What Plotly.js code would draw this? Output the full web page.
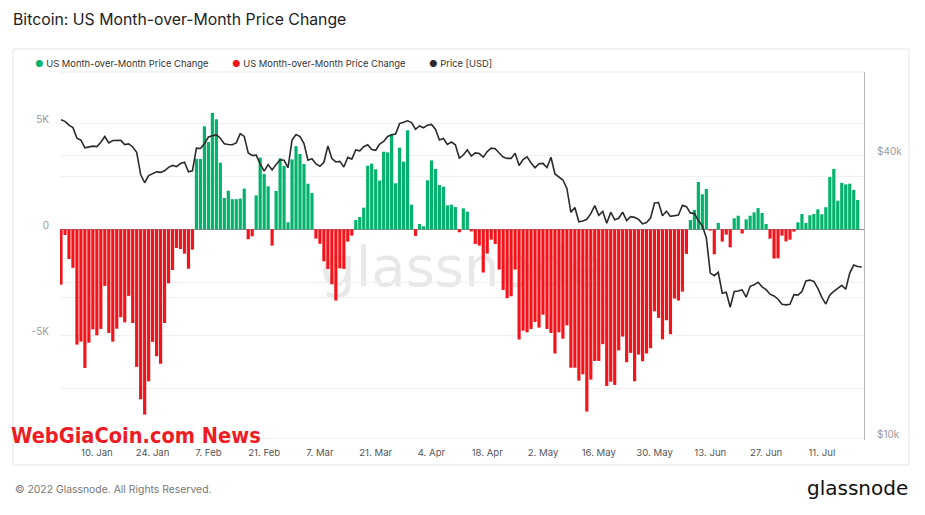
<!DOCTYPE html>
<html>
<head>
<meta charset="utf-8">
<script src="https://cdn.plot.ly/plotly-3.0.1.min.js"></script>
<style>
  html, body { margin: 0; padding: 0; background: #fff; }
  #chart { width: 925px; height: 515px; }
</style>
</head>
<body>
<div id="chart"></div>
<script>
// ---- DATA ----
const startDate = '2022-01-01';   // first daily bar

// US Month-over-Month price change (USD), one value per day from 1 Jan 2022
const momChange = [
  -2610, -270, -1400, -1820, -5440, -5300, -6540, -5350, -4720, -5000,
  -4700, -2670, -4890, -5300, -4690, -4150, -4390, -3140, -4420, -6490,
  -8020, -8740, -7170, -5310, -5990, -6340, -4420, -2550, -1920, -880,
  -930, -1150, -1860, -960,
  3320, 3320, 4860, 4120, 5490, 5190, 3140, 1480, 1820, 1420,
  1420, 1450, 1920, -470, -330, 1600, 3380, 2610, 2030,
  -770, 1810, 3350, 2990, 330, 3300, 3920, 3550, 3080, 2150,
  1710, -440, -680, -1510, -1870, -2590, -3360, -1840, -1870, -580,
  -300, 440, 580, 1020, 3000, 3100, 2830, 2300, 3660, 3630,
  4480, 2170, 3850, 3190, 4670, 1160, -310, 250, 140, 2310,
  3250, 2850, 2090, 2010, 1130, 1160, 1050, -140,
  990, 830, -100, -690, -770, -2040, -1150, -490, -690, -1900,
  -2860, -3250, -3160, -1900, -5200, -4780, -4860, -4700, -4370, -4640,
  -4030, -4700, -4890, -5860, -4860, -5160, -4530, -6530, -6530, -7140,
  -6840, -8600, -7090, -6210, -6210, -5420, -7390, -7190, -7340, -5710,
  -5060, -6270, -5830, -7170, -5910, -6230, -5860, -5610, -3870, -4180,
  -5190, -4290, -4950, -3270, -3360, -2940, -1160,
  440, 910, 2230, 1650, 1900, -60, -1180, 300, -580, -250,
  -850, 520, 640, -200, 470, 640, 800, 1000, 770, 250,
  -440, -1380, -1370, -300, -570, -490, -110, 330, 720, 300,
  660, 720, 940, 710, 1040, 2470, 2850, 1350, 2190, 2120,
  2150, 1860, 1380
];

// Price [USD], one value per day from 1 Jan 2022
const priceUSD = [
  47686, 47345, 46458, 45897, 43569, 43160, 41558, 41734, 41912, 41822,
  42736, 43949, 42592, 43100, 43177, 43114, 42250, 42375, 41744, 40681,
  36458, 35031, 36277, 36654, 36954, 36852, 37138, 37784, 38139, 37917, 38483,
  38743, 36952, 37154, 41501, 41441, 42412, 43841, 44118, 44339, 43565,
  42407, 42244, 42197, 42586, 44575, 43962, 40538, 40030, 40122, 38431,
  37075, 38286, 37296, 38332, 39214, 39105, 37709, 43193,
  44354, 43925, 42452, 39137, 39400, 38420, 37988, 38730, 41941, 39438,
  38795, 38904, 37849, 39666, 39338, 41143, 40951, 41801, 42191, 41247,
  41077, 42358, 42892, 43960, 44348, 44500, 46820, 47128, 47465, 47062, 45539,
  46281, 45868, 46453, 46622, 45555, 43206, 43504, 42287, 42782, 42207,
  39521, 40127, 41166, 39936, 40553, 40424, 39716, 40826, 41502, 41374,
  40527, 39740, 39469, 39470, 40458, 38117, 39241, 39773, 38610, 37714,
  38469, 38529, 37750, 39698, 36575, 36040, 35501, 34059, 30296, 31022,
  28936, 29047, 29283, 30101, 31305, 29862, 30425, 28720, 30314, 29200,
  29432, 30323, 29098, 29655, 29562, 29267, 28627, 28814, 29445, 31726, 31792,
  29799, 30467, 29704, 29833, 29907, 31370, 31155, 30214, 30112, 29083,
  28360, 26763, 22487, 22206, 22572, 20381, 20471, 19017, 20553, 20600,
  20711, 19987, 21085, 21232, 21502, 21028, 20735, 20281, 20105, 19785,
  19297, 19247, 19298, 20231, 20191, 20548, 21638, 21731, 21592, 20861,
  19971, 19323, 20213, 20570, 20836, 21190, 20780, 22486, 23389, 23231, 23165
];

const leftTickVals = [-10000, -7500, -5000, -2500, 0, 2500, 5000];
const leftTickText = ['-10K', '', '-5K', '', '0', '', '5K'];
const rightTickVals = [10000, 20000, 40000];
const rightTickText = ['$10k', '', '$40k'];
const seriesName = 'US Month-over-Month Price Change';
const priceName = 'Price [USD]';

// ---- BUILD ----
function dayList(n) {
  const out = [];
  const t0 = Date.parse(startDate + 'T00:00:00Z');
  for (let i = 0; i < n; i++) {
    out.push(new Date(t0 + i * 86400000).toISOString().slice(0, 10));
  }
  return out;
}
const barDates = dayList(momChange.length);
const priceDates = dayList(priceUSD.length);

const GREEN = '#03b36b';
const RED = '#f2141b';

const traces = [
  {
    type: 'bar', name: seriesName, x: barDates,
    y: momChange.map(v => v >= 0 ? v : null),
    marker: { color: GREEN, line: { width: 0 } }, yaxis: 'y', hoverinfo: 'skip'
  },
  {
    type: 'bar', name: seriesName, x: barDates,
    y: momChange.map(v => v < 0 ? v : null),
    marker: { color: RED, line: { width: 0 } }, yaxis: 'y', hoverinfo: 'skip'
  },
  {
    type: 'scatter', mode: 'lines', name: priceName, x: priceDates, y: priceUSD,
    line: { color: '#2b2b2b', width: 1.6 }, yaxis: 'y2', hoverinfo: 'skip'
  }
];

// plot area: x 60..864, y 72..440
const L = 60, R = 864, T = 72, B = 440;
const px = x => (x - L) / (R - L);
const py = y => (B - y) / (B - T);

function legendItem(x, color, text) {
  return {
    xref: 'paper', yref: 'paper', x: px(x), y: py(63), xanchor: 'left', yanchor: 'middle',
    showarrow: false,
    text: '<span style="color:' + color + '">●</span> ' + text,
    font: { family: 'Inter, Roboto, sans-serif', size: 9.4, color: '#333' }
  };
}

const layout = {
  width: 925, height: 515,
  paper_bgcolor: '#ffffff', plot_bgcolor: 'rgba(0,0,0,0)',
  margin: { l: L, r: 925 - R, t: T, b: 515 - B, pad: 0 },
  showlegend: false,
  barmode: 'relative', bargap: 0.2,
  font: { family: 'Inter, Roboto, sans-serif', size: 10, color: '#666' },
  title: {
    text: 'Bitcoin: US Month-over-Month Price Change',
    xref: 'container', yref: 'container', x: 13 / 925, xanchor: 'left',
    y: 1 - 19 / 515, yanchor: 'middle',
    font: { family: 'Inter, Roboto, sans-serif', size: 15.8, color: '#222' }
  },
  xaxis: {
    type: 'date',
    range: ['2021-12-31 18:00', '2022-07-21 14:00'],
    tick0: '2022-01-10', dtick: 14 * 86400000, tickformat: '%-d. %b',
    showgrid: false, zeroline: false, showline: false, ticks: '',
    ticklabelstandoff: 5,
    tickfont: { size: 9.6, color: '#555' }, fixedrange: true
  },
  yaxis: {
    range: [-9940, 7420],
    tickvals: leftTickVals, ticktext: leftTickText,
    showgrid: true, gridcolor: '#f0f0f0', gridwidth: 1,
    zeroline: true, zerolinecolor: '#8c8c8c', zerolinewidth: 1.5,
    showline: false, ticks: '', ticklabelstandoff: 10, ticklabelshift: -4,
    tickfont: { size: 10, color: '#999' }, fixedrange: true
  },
  yaxis2: {
    type: 'log', overlaying: 'y', side: 'right',
    range: [Math.log10(9920), Math.log10(60300)],
    tickvals: rightTickVals, ticktext: rightTickText,
    showgrid: true, gridcolor: '#f0f0f0', gridwidth: 1,
    zeroline: false, showline: true, linecolor: '#b5b5b5', linewidth: 1,
    ticks: '', ticklabelstandoff: 10, ticklabelshift: -4,
    tickfont: { size: 10, color: '#999' }, fixedrange: true
  },
  shapes: [
    // outer card frame
    { type: 'rect', xref: 'paper', yref: 'paper', x0: px(13), x1: px(909), y0: py(465), y1: py(49),
      line: { color: '#e6e6e6', width: 1 }, fillcolor: 'rgba(0,0,0,0)', layer: 'below' },
    // line under legend
    { type: 'line', xref: 'paper', yref: 'paper', x0: 0, x1: 1, y0: 1, y1: 1,
      line: { color: '#e8e8e8', width: 1 }, layer: 'below' },
    // watermark
    { type: 'rect', xref: 'paper', yref: 'paper', x0: 0, x1: 1, y0: py(300), y1: py(225),
      line: { width: 0 }, fillcolor: 'rgba(0,0,0,0)', layer: 'below',
      label: { text: 'glassnode', textposition: 'middle center',
               font: { family: 'DejaVu Sans, sans-serif', size: 56, color: '#e8e8e8' } } }
  ],
  annotations: [
    legendItem(33, GREEN, seriesName),
    legendItem(230, RED, seriesName),
    legendItem(427, '#2b2b2b', priceName),
    { xref: 'paper', yref: 'paper', x: px(13), y: py(489), xanchor: 'left', yanchor: 'middle',
      showarrow: false, text: '© 2022 Glassnode. All Rights Reserved.',
      font: { family: 'Inter, Roboto, sans-serif', size: 10.4, color: '#777' } },
    { xref: 'paper', yref: 'paper', x: px(910), y: py(488), xanchor: 'right', yanchor: 'middle',
      showarrow: false, text: 'glassnode',
      font: { family: 'DejaVu Sans, sans-serif', size: 20, color: '#111' } },
    { xref: 'paper', yref: 'paper', x: px(9), y: py(435), xanchor: 'left', yanchor: 'middle',
      showarrow: false, text: '<b>WebGiaCoin.com News</b>',
      font: { family: 'DejaVu Sans Condensed, sans-serif', size: 21.6, color: '#ee1c24' } }
  ]
};

Plotly.newPlot('chart', traces, layout, { displayModeBar: false, staticPlot: true });
</script>
</body>
</html>
